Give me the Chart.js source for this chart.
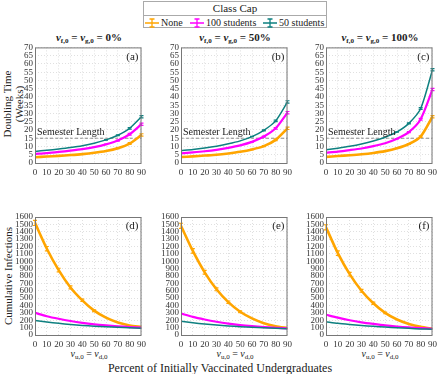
<!DOCTYPE html>
<html><head><meta charset="utf-8">
<script src="https://cdn.jsdelivr.net/npm/chart.js@4"></script>
<style>
body{margin:0;width:440px;height:374px;position:relative;background:#fff;font-family:"Liberation Serif","DejaVu Serif",serif;overflow:hidden;color:#222}
canvas{position:absolute}
.t{position:absolute;white-space:nowrap;line-height:1}
.ttl{font-weight:bold;font-size:11px;transform:translateX(-50%)}
.ttl i{font-style:italic}
sub{font-size:7px;vertical-align:-2px}
.rot{transform:translate(-50%,-50%) rotate(-90deg);font-size:11px}
#legend{position:absolute;left:143px;top:1px;width:184px;height:27px;border:1px solid #aaa;box-sizing:border-box;font-size:10px}
#legend .hd{height:13px;border-bottom:1px solid #aaa;text-align:center;font-size:11px;line-height:13px}
#legend .it{position:absolute;top:15px;display:flex;align-items:center;white-space:nowrap}
#legend svg{margin-right:2px}
</style></head><body>

<div id="legend"><div class="hd">Class Cap</div>
<div class="it" style="left:1px"><svg width="14" height="10"><path d="M0 5H14M7 1V9M4.5 1H9.5M4.5 9H9.5" stroke="#FFA500" stroke-width="1.3" fill="none"/></svg>None</div>
<div class="it" style="left:46px"><svg width="14" height="10"><path d="M0 5H14M7 1V9M4.5 1H9.5M4.5 9H9.5" stroke="#FF00FF" stroke-width="1.3" fill="none"/></svg>100 students</div>
<div class="it" style="left:119px"><svg width="14" height="10"><path d="M0 5H14M7 1V9M4.5 1H9.5M4.5 9H9.5" stroke="#0E8080" stroke-width="1.3" fill="none"/></svg>50 students</div>
</div>

<div class="t ttl" style="left:89px;top:32px"><i>v</i><sub>f,0</sub> = <i>v</i><sub>g,0</sub> = 0%</div>
<div class="t ttl" style="left:235px;top:32px"><i>v</i><sub>f,0</sub> = <i>v</i><sub>g,0</sub> = 50%</div>
<div class="t ttl" style="left:380px;top:32px"><i>v</i><sub>f,0</sub> = <i>v</i><sub>g,0</sub> = 100%</div>

<div class="t rot" style="left:7px;top:104px">Doubling Time</div>
<div class="t rot" style="left:19px;top:104px">(Weeks)</div>
<div class="t rot" style="left:8px;top:276px">Cumulative Infections</div>

<div class="t" style="left:89px;top:349px;transform:translateX(-50%);font-size:10px"><i>v</i><sub>u,0</sub> = <i>v</i><sub>d,0</sub></div>
<div class="t" style="left:235px;top:349px;transform:translateX(-50%);font-size:10px"><i>v</i><sub>u,0</sub> = <i>v</i><sub>d,0</sub></div>
<div class="t" style="left:380px;top:349px;transform:translateX(-50%);font-size:10px"><i>v</i><sub>u,0</sub> = <i>v</i><sub>d,0</sub></div>
<div class="t" style="left:220px;top:362px;transform:translateX(-50%);font-size:12px">Percent of Initially Vaccinated Undergraduates</div>

<canvas id="ca" width="150" height="140" style="left:0;top:40px"></canvas>
<canvas id="cb" width="150" height="140" style="left:146px;top:40px"></canvas>
<canvas id="cc" width="150" height="140" style="left:291px;top:40px"></canvas>
<canvas id="cd" width="150" height="147" style="left:0;top:205px"></canvas>
<canvas id="ce" width="150" height="147" style="left:146px;top:205px"></canvas>
<canvas id="cf" width="150" height="147" style="left:291px;top:205px"></canvas>

<script>
// ---- data ----
const vaccinatedPct = [0,10,20,30,40,50,60,70,80,90];
const semesterLength = 15;

// Doubling time (weeks)
const dblNoneA = [3.5,3.9,4.3,4.8,5.4,6.2,7.3,9.0,11.8,17.0];
const dbl100A  = [5.5,6.0,6.7,7.5,8.4,9.6,11.3,13.6,17.4,23.5];
const dbl50A   = [7.0,7.7,8.5,9.4,10.5,12.0,14.0,16.8,21.0,28.0];

const dblNoneB = [3.6,4.0,4.5,5.0,5.8,6.8,8.2,10.2,14.0,21.0];
const dbl100B  = [5.8,6.4,7.1,8.0,9.2,10.7,12.8,16.0,21.0,30.5];
const dbl50B   = [7.5,8.2,9.1,10.2,11.6,13.4,16.0,19.8,25.5,37.0];

const dblNoneC = [3.7,4.2,4.7,5.3,6.1,7.2,8.9,11.5,16.0,28.0];
const dbl100C  = [6.2,6.9,7.8,8.8,10.2,12.0,14.7,18.7,26.5,44.5];
const dbl50C   = [8.0,9.0,10.1,11.5,13.3,15.6,18.8,24.0,33.0,56.5];

// Cumulative infections
const cumNoneD = [1520,1170,880,645,470,330,235,170,130,110];
const cum100D  = [300,255,220,190,165,145,130,118,108,100];
const cum50D   = [195,175,158,143,130,120,112,105,98,92];

const cumNoneE = [1480,1140,850,620,445,315,225,160,120,95];
const cum100E  = [290,245,210,180,155,135,120,108,98,90];
const cum50E   = [185,165,148,135,123,112,104,97,90,84];

const cumNoneF = [1460,1110,825,600,430,300,210,150,110,85];
const cum100F  = [275,235,200,172,150,130,115,103,93,85];
const cum50F   = [180,158,142,128,117,107,98,90,83,78];

// error half-widths
const errDblSmall = [0,0,0,0,0,0,0.1,0.3,0.5,0.7];
const errCumNone  = [35,30,25,20,16,12,0,0,0,0];
const errCumCap   = [0,0,0,0,0,0,0,0,0,0];

const COL_NONE = '#FFA500', COL_100 = '#FF00FF', COL_50 = '#0E8080';
const FONT = '"Liberation Serif", "DejaVu Serif", serif';
Chart.defaults.font.family = FONT;

const boxPlugin = {
  id:'box',
  afterDatasetsDraw(chart){
    const {ctx, chartArea:a} = chart;
    const o = chart.options.plugins.box;
    chart.data.datasets.forEach((ds,i)=>{
      if(!ds.errors) return;
      const meta = chart.getDatasetMeta(i);
      const ys = chart.scales.y;
      ctx.save(); ctx.strokeStyle = ds.borderColor; ctx.lineWidth = 1.2;
      meta.data.forEach((pt,j)=>{
        const v = ds.data[j].y, e = ds.errors[j];
        if (!e) return;
        const y1 = ys.getPixelForValue(v+e), y2 = ys.getPixelForValue(v-e);
        ctx.beginPath();
        ctx.moveTo(pt.x,y1); ctx.lineTo(pt.x,y2);
        ctx.moveTo(pt.x-2,y1); ctx.lineTo(pt.x+2,y1);
        ctx.moveTo(pt.x-2,y2); ctx.lineTo(pt.x+2,y2);
        ctx.stroke();
      });
      ctx.restore();
    });
    ctx.save();
    ctx.strokeStyle = '#777'; ctx.lineWidth = 1;
    ctx.strokeRect(a.left+0.5, a.top+0.5, a.right-a.left-1, a.bottom-a.top);
    ctx.fillStyle = '#222';
    ctx.font = '11px ' + FONT;
    ctx.textAlign = 'right'; ctx.textBaseline = 'top';
    ctx.fillText(o.letter, a.right-3, a.top+4);
    if (o.semester) {
      const y = chart.scales.y.getPixelForValue(semesterLength);
      ctx.textAlign = 'left'; ctx.textBaseline = 'bottom';
      ctx.font = '10px ' + FONT;
      ctx.fillText('Semester Length', a.left+2, y-1);
    }
    ctx.restore();
  }
};

function makePanel(id, none, c100, c50, top, letter){
  const datasets = [
    {data: none, borderColor: COL_NONE, borderWidth: 2.6, errors: top ? errDblSmall : errCumNone},
    {data: c100, borderColor: COL_100, borderWidth: 2.2, errors: top ? errDblSmall : errCumCap},
    {data: c50,  borderColor: COL_50,  borderWidth: 1.5, errors: top ? errDblSmall : errCumCap}
  ];
  if (top) {
    datasets.push({data: vaccinatedPct.map(()=>semesterLength), borderColor:'#888', borderWidth:1, borderDash:[3,2]});
  }
  if (!top) { datasets.reverse(); }
  datasets.forEach(d=>{ d.pointRadius = 0; d.tension = 0.25; d.fill = false; });
  const grid = {color:'#d8d8d8', lineWidth:0.8, tickLength:0, drawTicks:false};
  new Chart(document.getElementById(id), {
    type:'line',
    data:{datasets: datasets.map(d=>({...d, data: d.data.map((v,i)=>({x:vaccinatedPct[i], y:v}))}))},
    options:{
      responsive:false, animation:false,
      layout:{padding:{top: top?5:12, right:7, left:0, bottom:0}},
      plugins:{legend:{display:false}, tooltip:{enabled:false}, box:{letter, semester: top}},
      scales:{
        x:{type:'linear', min:0, max:90,
           grid:{...grid}, border:{display:false, dash:[1,2]},
           ticks:{stepSize:10, color:'#333', font:{family:FONT, size:9}, padding:4, maxRotation:0, autoSkip:false,
                  callback:v=>String(v)},
           afterFit(s){ s.height = 17; }},
        y:{min:0, max: top?70:1600,
           grid:{...grid}, border:{display:false, dash:[1,2]},
           ticks:{stepSize: top?5:100, color:'#333', font:{family:FONT, size:9}, padding:2, autoSkip:false,
                  callback:v=>String(v)},
           afterFit(s){ s.width = 35; }}
      }
    },
    plugins:[boxPlugin]
  });
}

makePanel('ca', dblNoneA, dbl100A, dbl50A, true, '(a)');
makePanel('cb', dblNoneB, dbl100B, dbl50B, true, '(b)');
makePanel('cc', dblNoneC, dbl100C, dbl50C, true, '(c)');
makePanel('cd', cumNoneD, cum100D, cum50D, false, '(d)');
makePanel('ce', cumNoneE, cum100E, cum50E, false, '(e)');
makePanel('cf', cumNoneF, cum100F, cum50F, false, '(f)');
</script>
</body></html>
